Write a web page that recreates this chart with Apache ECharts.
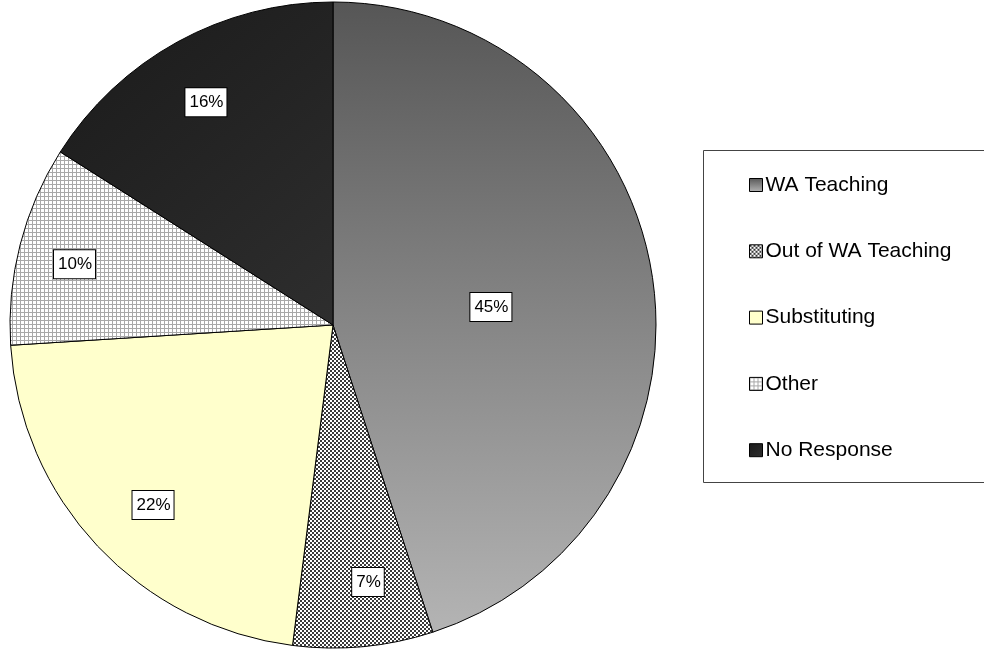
<!DOCTYPE html>
<html>
<head>
<meta charset="utf-8">
<script src="https://cdn.jsdelivr.net/npm/echarts@6/dist/echarts.min.js"></script>
<style>
  html, body { margin: 0; padding: 0; background: #fff; }
  #chart { width: 984px; height: 650px; }
</style>
</head>
<body>
<div id="chart"></div>
<script>
// Employment status of respondents (share of total, %)
const categories = ['WA Teaching', 'Out of WA Teaching', 'Substituting', 'Other', 'No Response'];
const shares = [45, 7, 22, 10, 16];

// Placement of each percentage box: fraction of radius, and angular nudge (degrees)
const labelRadiusFactor = [0.492, 0.803, 0.788, 0.822, 0.794];
const labelAngleShift = [2.5, -2.35, -1.8, -1.2, -0.9];

const CX = 333, CY = 325, R = 323;
const FONT = 'Liberation Sans, Arial, sans-serif';

function makePattern(size, draw) {
  const c = document.createElement('canvas');
  c.width = size; c.height = size;
  const ctx = c.getContext('2d');
  draw(ctx);
  return { image: c, repeat: 'repeat' };
}

// small checkerboard
const checker = makePattern(4, ctx => {
  ctx.fillStyle = '#ffffff'; ctx.fillRect(0, 0, 4, 4);
  ctx.fillStyle = '#3a3a3a';
  ctx.fillRect(0, 0, 2, 2); ctx.fillRect(2, 2, 2, 2);
});

// fine grid
const grid = makePattern(4, ctx => {
  ctx.fillStyle = '#ffffff'; ctx.fillRect(0, 0, 4, 4);
  ctx.fillStyle = '#a8a8a8';
  ctx.fillRect(0, 0, 4, 1); ctx.fillRect(0, 0, 1, 4);
});

const fills = [
  { type: 'linear', x: 0, y: 0, x2: 0, y2: 1,
    colorStops: [{ offset: 0, color: '#565656' }, { offset: 1, color: '#b4b4b4' }] },
  checker,
  '#ffffcc',
  grid,
  { type: 'linear', x: 0, y: 0, x2: 1, y2: 1,
    colorStops: [{ offset: 0, color: '#1a1a1a' }, { offset: 1, color: '#2e2e2e' }] }
];

const total = shares.reduce((a, b) => a + b, 0);
const midAngles = [];
{
  let acc = 0;
  shares.forEach(v => { midAngles.push((acc + v / 2) / total * 2 * Math.PI); acc += v; });
}

const chart = echarts.init(document.getElementById('chart'), null, { renderer: 'canvas' });

chart.setOption({
  backgroundColor: '#ffffff',
  animation: false,
  graphic: [{
    type: 'rect',
    shape: { x: 703.5, y: 150.5, width: 300, height: 332 },
    style: { fill: 'none', stroke: '#444', lineWidth: 1 },
    z: 0
  }],
  legend: {
    orient: 'vertical',
    left: 749,
    top: 173,
    padding: 0,
    itemWidth: 13,
    itemHeight: 13,
    itemGap: 42.3,
    icon: 'rect',
    itemStyle: { borderColor: '#000', borderWidth: 1 },
    textStyle: { fontFamily: FONT, fontSize: 21, color: '#000', lineHeight: 24, padding: [0, 0, 0, -2] },
    data: categories
  },
  series: [{
    type: 'pie',
    center: [CX, CY],
    radius: [0, R],
    startAngle: 90,
    clockwise: true,
    avoidLabelOverlap: false,
    silent: true,
    itemStyle: { borderColor: '#000', borderWidth: 1 },
    label: {
      show: true,
      position: 'inside',
      formatter: p => p.value + '%',
      fontFamily: FONT,
      fontSize: 17,
      color: '#000',
      backgroundColor: '#fff',
      borderColor: '#000',
      borderWidth: 1,
      padding: [6, 3, 5, 4],
      align: 'center',
      verticalAlign: 'middle'
    },
    labelLine: { show: false },
    labelLayout: params => {
      const i = params.dataIndex;
      const a = midAngles[i] + labelAngleShift[i] * Math.PI / 180;
      const r = R * labelRadiusFactor[i];
      return { x: CX + r * Math.sin(a), y: CY - r * Math.cos(a), align: 'center', verticalAlign: 'middle' };
    },
    data: categories.map((name, i) => ({
      name,
      value: shares[i],
      itemStyle: { color: fills[i] }
    }))
  }]
});
</script>
</body>
</html>
